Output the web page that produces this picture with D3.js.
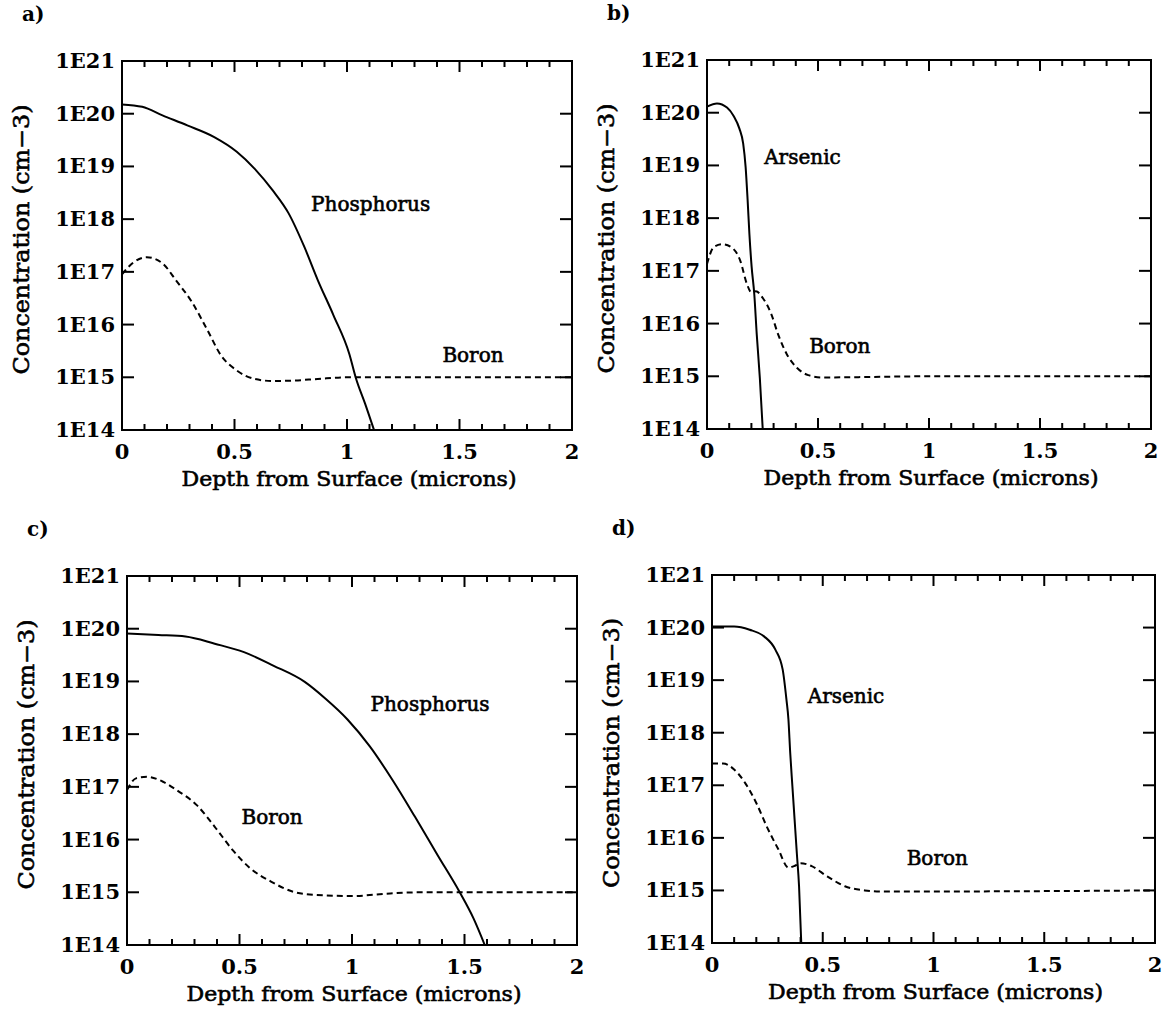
<!DOCTYPE html>
<html>
<head>
<meta charset="utf-8">
<script src="https://cdn.jsdelivr.net/npm/d3@7"></script>
<style>
body { margin: 0; background: #fff; }
text { fill: #000; }
</style>
</head>
<body>
<svg id="chart" width="1169" height="1022"></svg>
<script>
/* tick values */
var decades = [14, 15, 16, 17, 18, 19, 20, 21];
var depthTicks = [0, 0.5, 1, 1.5, 2];
var depthMinor = [0.1, 0.2, 0.3, 0.4, 0.6, 0.7, 0.8, 0.9, 1.1, 1.2, 1.3, 1.4, 1.6, 1.7, 1.8, 1.9];

/* a) phosphorus + boron */
var aPhosDepth = [0, 0.09, 0.18, 0.29, 0.41, 0.51, 0.59, 0.67, 0.74, 0.81, 0.87, 0.94, 1.01, 1.04, 1.08, 1.12];
var aPhos = [1.5e20, 1.35e20, 9.3e19, 6e19, 3.6e19, 1.9e19, 9e18, 3.5e18, 1.3e18, 3e17, 7e16, 1.5e16, 2.8e15, 9.5e14, 3.2e14, 1e14];
var aBoronDepth = [0, 0.05, 0.11, 0.18, 0.24, 0.31, 0.38, 0.44, 0.51, 0.59, 0.67, 0.77, 0.87, 1.0, 1.5, 2.0];
var aBoron = [9e16, 1.5e17, 1.9e17, 1.45e17, 6.9e16, 2.7e16, 7.8e15, 2.6e15, 1.35e15, 9.3e14, 8.5e14, 8.7e14, 9.3e14, 1e15, 1e15, 1e15];

/* b) arsenic + boron */
var bArsDepth = [0, 0.045, 0.09, 0.12, 0.146, 0.163, 0.174, 0.183, 0.191, 0.201, 0.213, 0.224, 0.238, 0.251];
var bArs = [1.3e20, 1.5e20, 1.25e20, 8.7e19, 5e19, 2.6e19, 9.3e18, 2.2e18, 5e17, 1.2e17, 3.6e16, 6.3e15, 9.3e14, 1e14];
var bBoronDepth = [0, 0.03, 0.07, 0.11, 0.15, 0.18, 0.2, 0.22, 0.255, 0.29, 0.32, 0.36, 0.405, 0.456, 0.52, 1.0, 2.0];
var bBoron = [1.35e17, 2.8e17, 3.2e17, 2.8e17, 1.55e17, 5.6e16, 3.9e16, 4.1e16, 2.9e16, 1.5e16, 6.3e15, 2.6e15, 1.45e15, 1.05e15, 9.5e14, 1e15, 1e15];

/* c) phosphorus + boron */
var cPhosDepth = [0, 0.14, 0.26, 0.39, 0.52, 0.65, 0.79, 0.88, 0.98, 1.08, 1.18, 1.28, 1.38, 1.48, 1.54, 1.59];
var cPhos = [8.1e19, 7.6e19, 7.1e19, 5.2e19, 3.6e19, 2e19, 9.8e18, 4.8e18, 1.9e18, 5.8e17, 1.35e17, 2.7e16, 5.1e15, 9.8e14, 3.2e14, 1e14];
var cBoronDepth = [0, 0.04, 0.09, 0.16, 0.22, 0.31, 0.39, 0.47, 0.55, 0.64, 0.74, 0.84, 1.0, 1.17, 1.3, 2.0];
var cBoron = [8.7e16, 1.45e17, 1.55e17, 1.25e17, 8.7e16, 4.5e16, 1.75e16, 6.3e15, 2.8e15, 1.6e15, 1.02e15, 8.9e14, 8.5e14, 9.5e14, 1e15, 1e15];

/* d) arsenic + boron */
var dArsDepth = [0, 0.1, 0.17, 0.235, 0.286, 0.319, 0.336, 0.345, 0.353, 0.363, 0.373, 0.383, 0.393, 0.403];
var dArs = [1.05e20, 1.05e20, 9.1e19, 6.8e19, 3.8e19, 1.6e19, 4.3e18, 1.8e18, 4.2e17, 9.5e16, 2.2e16, 5.1e15, 1.2e15, 1e14];
var dBoronDepth = [0, 0.05, 0.1, 0.15, 0.2, 0.25, 0.3, 0.345, 0.37, 0.4, 0.45, 0.52, 0.6, 0.69, 0.77, 2.0];
var dBoron = [2.6e17, 2.6e17, 2e17, 1.1e17, 4.6e16, 1.55e16, 6e15, 2.7e15, 2.9e15, 3.3e15, 2.9e15, 1.85e15, 1.2e15, 1e15, 9.5e14, 1e15];

/* curve labels: [text, depth, concentration] */
var aLabels = [["Phosphorus", 1.105, 1.85e18], ["Boron", 1.56, 2.45e15]];
var bLabels = [["Arsenic", 0.43, 1.35e19], ["Boron", 0.598, 3.45e15]];
var cLabels = [["Phosphorus", 1.347, 3.55e18], ["Boron", 0.645, 2.5e16]];
var dLabels = [["Arsenic", 0.605, 4.6e18], ["Boron", 1.017, 3.8e15]];

var svg = d3.select("#chart");
var serif = "'DejaVu Serif', 'Liberation Serif', serif";

function zip(xs, ys) {
	return xs.map(function(x, i) { return [x, ys[i]]; });
}

/**
* @func Draw one concentration panel
*/
function drawPanel(p)
{
	var x = d3.scaleLinear().domain([0, 2]).range([p.left, p.left + p.w]);
	var y = d3.scaleLog().domain([1e14, 1e21]).range([p.top + p.h, p.top]);
	var bottom = p.top + p.h, right = p.left + p.w;

	var g = svg.append("g");

	svg.append("clipPath").attr("id", "clip-" + p.id)
		.append("rect")
		.attr("x", p.left).attr("y", p.top)
		.attr("width", p.w).attr("height", p.h);

	// inward ticks: x on top and bottom, decades on left and right
	var xt = depthMinor.map(function(v) { return [v, 6]; })
		.concat(depthTicks.map(function(v) { return [v, 11]; }));
	var tk = g.append("g").attr("stroke", "#000").attr("stroke-width", 2);
	tk.selectAll(".xb").data(xt).enter().append("line")
		.attr("x1", function(d) { return x(d[0]); }).attr("x2", function(d) { return x(d[0]); })
		.attr("y1", bottom).attr("y2", function(d) { return bottom - d[1]; });
	tk.selectAll(".xt").data(xt).enter().append("line")
		.attr("x1", function(d) { return x(d[0]); }).attr("x2", function(d) { return x(d[0]); })
		.attr("y1", p.top).attr("y2", function(d) { return p.top + d[1]; });
	tk.selectAll(".yl").data(decades).enter().append("line")
		.attr("x1", p.left).attr("x2", p.left + 12)
		.attr("y1", function(d) { return y(Math.pow(10, d)); })
		.attr("y2", function(d) { return y(Math.pow(10, d)); });
	tk.selectAll(".yr").data(decades).enter().append("line")
		.attr("x1", right - 12).attr("x2", right)
		.attr("y1", function(d) { return y(Math.pow(10, d)); })
		.attr("y2", function(d) { return y(Math.pow(10, d)); });

	// frame
	g.append("rect")
		.attr("x", p.left).attr("y", p.top)
		.attr("width", p.w).attr("height", p.h)
		.attr("fill", "none").attr("stroke", "#000").attr("stroke-width", 2);

	// tick labels
	g.selectAll(".ylab").data(decades).enter().append("text")
		.attr("x", p.left - 7)
		.attr("y", function(d) { return y(Math.pow(10, d)) + 7; })
		.attr("text-anchor", "end")
		.style("font-family", serif).style("font-weight", "bold").style("font-size", "21px")
		.text(function(d) { return "1E" + d; });
	g.selectAll(".xlab").data(depthTicks).enter().append("text")
		.attr("x", function(d) { return x(d); })
		.attr("y", bottom + 29)
		.attr("text-anchor", "middle")
		.style("font-family", serif).style("font-weight", "bold").style("font-size", "21px")
		.text(function(d) { return String(d); });

	// axis titles
	g.append("text")
		.attr("x", p.left + p.w / 2 + 2).attr("y", bottom + 56)
		.attr("text-anchor", "middle")
		.attr("textLength", 335).attr("lengthAdjust", "spacingAndGlyphs")
		.style("font-family", serif).style("font-size", "21px")
		.attr("stroke", "#000").attr("stroke-width", 0.6)
		.text("Depth from Surface (microns)");
	g.append("text")
		.attr("transform", "translate(" + (p.left - 93) + "," + (p.top + p.h / 2 - 6) + ") rotate(-90)")
		.attr("text-anchor", "middle")
		.attr("textLength", 270).attr("lengthAdjust", "spacingAndGlyphs")
		.style("font-family", serif).style("font-size", "22px")
		.attr("stroke", "#000").attr("stroke-width", 0.6)
		.text("Concentration (cm\u22123)");

	// panel letter
	g.append("text")
		.attr("x", p.left - 100).attr("y", p.top - 40)
		.style("font-family", serif).style("font-weight", "bold").style("font-size", "20px")
		.text(p.id + ")");

	// curves
	var line = d3.line()
		.x(function(d) { return x(d[0]); })
		.y(function(d) { return y(d[1]); })
		.curve(d3.curveMonotoneX);
	var plot = g.append("g").attr("clip-path", "url(#clip-" + p.id + ")");
	plot.append("path").datum(zip(p.boronDepth, p.boron))
		.attr("d", line).attr("fill", "none")
		.attr("stroke", "#000").attr("stroke-width", 2)
		.attr("stroke-dasharray", "6,4");
	plot.append("path").datum(zip(p.mainDepth, p.main))
		.attr("d", line).attr("fill", "none")
		.attr("stroke", "#000").attr("stroke-width", 2);

	// curve labels
	g.selectAll(".clab").data(p.labels).enter().append("text")
		.attr("x", function(d) { return x(d[1]); })
		.attr("y", function(d) { return y(d[2]); })
		.attr("text-anchor", "middle")
		.attr("dominant-baseline", "middle")
		.style("font-family", serif).style("font-size", "20px")
		.attr("stroke", "#000").attr("stroke-width", 0.6)
		.text(function(d) { return d[0]; });
}

drawPanel({ id: "a", left: 122, top: 61, w: 450, h: 369,
	mainDepth: aPhosDepth, main: aPhos, boronDepth: aBoronDepth, boron: aBoron, labels: aLabels });
drawPanel({ id: "b", left: 707, top: 60, w: 444, h: 369,
	mainDepth: bArsDepth, main: bArs, boronDepth: bBoronDepth, boron: bBoron, labels: bLabels });
drawPanel({ id: "c", left: 127, top: 576, w: 450, h: 369,
	mainDepth: cPhosDepth, main: cPhos, boronDepth: cBoronDepth, boron: cBoron, labels: cLabels });
drawPanel({ id: "d", left: 712, top: 575, w: 443, h: 368,
	mainDepth: dArsDepth, main: dArs, boronDepth: dBoronDepth, boron: dBoron, labels: dLabels });
</script>
</body>
</html>
